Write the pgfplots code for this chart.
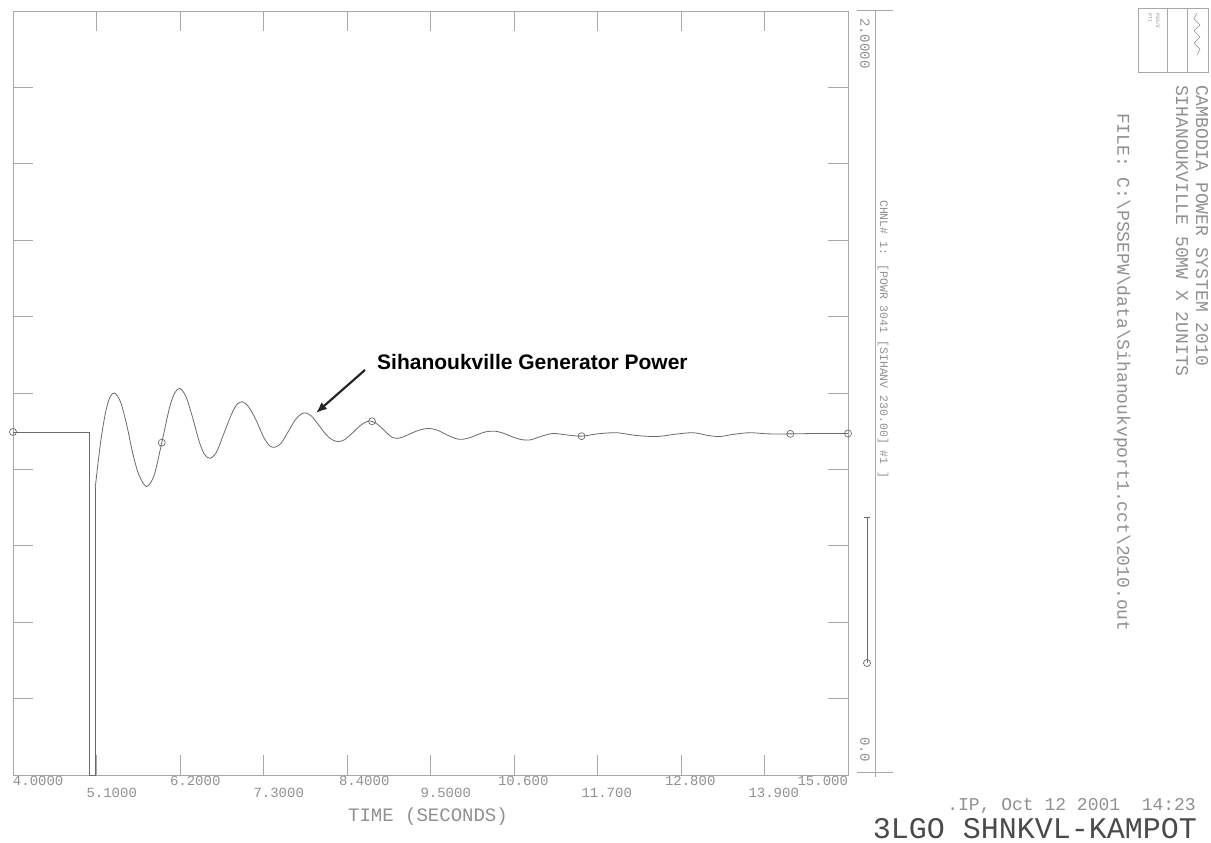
\documentclass[border=0pt]{standalone}
\usepackage{pgfplots}
\pgfplotsset{compat=1.18}
\usepackage{fontspec}
\setmainfont{Liberation Mono}
\newfontfamily\arialfont{Liberation Sans}
\usetikzlibrary{arrows.meta}
\definecolor{framegray}{HTML}{A8A8A8}
\definecolor{curvegray}{HTML}{6A6A6A}
\definecolor{txtgray}{HTML}{909090}
\definecolor{darktxt}{HTML}{4A4A4A}

\begin{document}
\begin{tikzpicture}[x=1pt,y=1pt]
\path[use as bounding box] (0,0) rectangle (1211,843);
\begin{axis}[
  at={(13pt,68pt)}, anchor=south west,
  scale only axis, width=835pt, height=764pt,
  xmin=4, xmax=15, ymin=0, ymax=2,
  axis line style={framegray, line width=0.8pt},
  tick style={framegray, line width=0.8pt},
  major tick length=20pt, tick align=inside, tick pos=both,
  ytick={0,0.2,0.4,0.6,0.8,1,1.2,1.4,1.6,1.8,2}, yticklabels={},
  xtick={4,6.2,8.4,10.6,12.8,15},
  xticklabels={\makebox[0pt][l]{4.0000},\makebox[0pt][l]{\hspace{-10pt}6.2000},\makebox[0pt][l]{\hspace{-8pt}8.4000},\makebox[0pt][l]{\hspace{-16pt}10.600},\makebox[0pt][l]{\hspace{-16pt}12.800},\makebox[0pt][r]{15.000}},
  extra x ticks={5.1,7.3,9.5,11.7,13.9},
  extra x tick labels={\makebox[0pt][l]{\hspace{-10pt}5.1000},\makebox[0pt][l]{\hspace{-10pt}7.3000},\makebox[0pt][l]{\hspace{-10pt}9.5000},\makebox[0pt][l]{\hspace{-16pt}11.700},\makebox[0pt][l]{\hspace{-16pt}13.900}},
  extra x tick style={xticklabel style={yshift=-12pt}},
  xticklabel style={font=\fontsize{14}{14}\selectfont, text=txtgray, inner sep=1pt, anchor=north},
  clip=false,
]
% pre-fault and fault
\addplot[curvegray, line width=0.8pt] coordinates {
(4.0,0.898) (5.0,0.898) (5.0,0) (5.085,0) (5.085,0.755)};
% post-fault oscillation
\addplot[curvegray, line width=0.8pt, smooth] coordinates {
(5.085,0.755) (5.15,0.865) (5.22,0.950) (5.28,0.990) (5.34,1.000)
(5.42,0.975) (5.50,0.915) (5.58,0.840) (5.66,0.785) (5.76,0.755)
(5.86,0.785) (5.96,0.870) (6.06,0.960) (6.13,1.000) (6.20,1.012)
(6.28,0.990) (6.36,0.940) (6.45,0.875) (6.52,0.840) (6.595,0.829)
(6.68,0.845) (6.78,0.895) (6.88,0.945) (6.95,0.970) (7.02,0.977)
(7.10,0.965) (7.20,0.930) (7.30,0.885) (7.38,0.862) (7.45,0.858)
(7.53,0.868) (7.62,0.897) (7.72,0.930) (7.79,0.944) (7.85,0.948)
(7.93,0.940) (8.02,0.918) (8.12,0.892) (8.21,0.877) (8.29,0.873)
(8.37,0.878) (8.47,0.895) (8.57,0.914) (8.64,0.923) (8.70,0.927)
(8.78,0.921) (8.87,0.906) (8.96,0.889) (9.01,0.883) (9.06,0.881)
(9.14,0.885) (9.24,0.894) (9.34,0.902) (9.42,0.906) (9.50,0.907)
(9.60,0.902) (9.70,0.892) (9.80,0.883) (9.87,0.879) (9.93,0.879)
(10.02,0.883) (10.12,0.891) (10.22,0.898) (10.35,0.900) (10.47,0.894)
(10.58,0.885) (10.70,0.878) (10.81,0.877) (10.95,0.886) (11.11,0.894)
(11.30,0.890) (11.49,0.887) (11.70,0.893) (11.95,0.896) (12.20,0.889)
(12.48,0.886) (12.72,0.892) (12.96,0.896) (13.15,0.889) (13.31,0.886)
(13.50,0.892) (13.71,0.896) (13.95,0.893) (14.24,0.893) (14.60,0.894)
(15.00,0.894)};
% plot symbols
\addplot[only marks, mark=o, mark size=3.5pt, curvegray, mark options={line width=0.7pt}] coordinates {
(4.0,0.898) (5.96,0.870) (8.73,0.926) (11.49,0.887) (14.24,0.893) (15.0,0.894)};
\end{axis}

% channel scale axis on the right
\draw[framegray, line width=0.8pt] (875,833) -- (875,71);
\draw[framegray, line width=0.8pt] (857,833) -- (893,833);
\draw[framegray, line width=0.8pt] (857,71) -- (893,71);
\draw[framegray, line width=0.8pt] (875,71) -- (875,66);
\node[rotate=-90, anchor=west, inner sep=0pt, text=txtgray, font=\fontsize{14}{14}\selectfont] at (865,825) {2.0000};
\node[rotate=-90, anchor=west, inner sep=0pt, text=txtgray, font=\fontsize{14}{14}\selectfont] at (865,106) {0.0};
\node[rotate=-90, anchor=west, inner sep=0pt, text=txtgray, font=\fontsize{11.5}{12}\selectfont] at (883,643) {CHNL\# 1: [POWR 3041 [SIHANV 230.00] \#1 ]};
% legend sample
\draw[curvegray, line width=0.8pt] (867,326) -- (867,180);
\draw[curvegray, line width=0.8pt] (864,326) -- (870,326);
\draw[curvegray, line width=0.7pt] (867,180) circle (3.5);

% x-axis title
\node[anchor=base, inner sep=0pt, text=txtgray, font=\fontsize{19}{19}\selectfont] at (428,21) {TIME (SECONDS)};

% annotation
\node[anchor=base west, inner sep=0pt, font=\arialfont\bfseries\fontsize{21}{24}\selectfont] at (377,473) {Sihanoukville Generator Power};
\draw[-{Latex[length=11pt,width=9pt]}, line width=2.2pt, black!85] (365,473) -- (316,430);

% right-side titles
\draw[framegray, line width=0.8pt] (1138,771) rectangle (1208,835);
\draw[framegray, line width=0.8pt] (1167,771) -- (1167,835);
\draw[framegray, line width=0.8pt] (1187,771) -- (1187,835);
\node[rotate=-90, anchor=west, inner sep=0pt, text=txtgray, font=\fontsize{5}{5}\selectfont] at (1158,830) {PSS/E};
\node[rotate=-90, anchor=west, inner sep=0pt, text=txtgray, font=\fontsize{5}{5}\selectfont] at (1150,830) {PTI};
\draw[txtgray, line width=0.5pt] (1197,830) -- (1194,824) -- (1200,818) -- (1194,812) -- (1200,806) -- (1194,800) -- (1200,794) -- (1197,788);
\node[rotate=-90, anchor=west, inner sep=0pt, text=txtgray, font=\fontsize{18}{18}\selectfont] at (1202,758) {CAMBODIA POWER SYSTEM 2010};
\node[rotate=-90, anchor=west, inner sep=0pt, text=txtgray, font=\fontsize{18}{18}\selectfont] at (1182,758) {SIHANOUKVILLE 50MW X 2UNITS};
\node[rotate=-90, anchor=west, inner sep=0pt, text=txtgray, font=\fontsize{18}{18}\selectfont] at (1122,730) {FILE: C:\textbackslash PSSEPW\textbackslash data\textbackslash Sihanoukvport1.cct\textbackslash 2010.out};

% bottom-right captions
\node[anchor=base east, inner sep=0pt, text=txtgray, font=\fontsize{18}{18}\selectfont] at (1196,32) {.IP, Oct 12 2001~~14:23};
\node[anchor=base east, inner sep=0pt, text=darktxt, font=\fontsize{30}{30}\selectfont] at (1197,4) {3LGO SHNKVL-KAMPOT};
\end{tikzpicture}
\end{document}
